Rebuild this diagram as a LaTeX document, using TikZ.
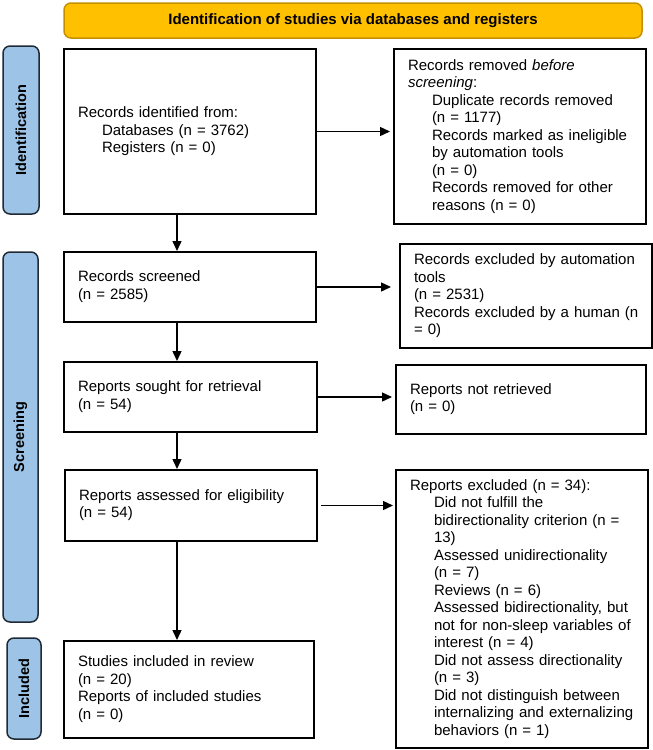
\documentclass[tikz,border=0pt]{standalone}
\usepackage{fontspec}
\setmainfont{Liberation Sans}
\usetikzlibrary{arrows.meta,calc}
\definecolor{hdrfill}{HTML}{FFC000}
\definecolor{hdrdraw}{HTML}{C49000}
\definecolor{lblfill}{HTML}{9DC3E6}
\definecolor{lbldraw}{HTML}{1F2A36}
\newcommand\ind{\hspace*{24pt}}
\begin{document}
\begin{tikzpicture}[x=1pt,y=-1pt,
  pbox/.style={draw=black, line width=2pt, inner xsep=14pt, inner ysep=0pt,
    align=left, anchor=north west, font=\fontsize{15}{17.5}\selectfont},
  hdr/.style={draw=hdrdraw, fill=hdrfill, line width=1.5pt, rounded corners=7pt,
    font=\bfseries\fontsize{15}{18}\selectfont, inner sep=0pt},
  phase/.style={draw=lbldraw, fill=lblfill, line width=1.5pt, rounded corners=7pt,
    rotate=90, font=\bfseries\fontsize{14.5}{17}\selectfont, inner sep=0pt},
  arr/.style={line width=1.4pt, -{Triangle[length=10pt,width=9pt]}}]
\useasboundingbox (0,0) rectangle (653,750);

\node[hdr, minimum width=578pt, minimum height=35pt] (hd) at (353,20.5)
  {Identification of studies via databases and registers};

\node[phase, minimum width=168pt, minimum height=36pt] (pid) at (21,130) {Identification};
\node[phase, minimum width=370pt, minimum height=35pt] (psc) at (20.5,437) {Screening};
\node[phase, minimum width=101pt, minimum height=34pt] (pin) at (24,688.5) {Included};

\node[pbox, text width=224pt, minimum height=165pt] (ident) at (63,48)
  {\begin{tabular}{@{}l@{}}Records identified from:\\ \ind Databases (n = 3762)\\ \ind Registers (n = 0)\end{tabular}};

\node[pbox, text width=224pt, minimum height=175pt] (removed) at (393,48)
  {\begin{tabular}{@{}l@{}}Records removed \textit{before}\\ \textit{screening}:\\
   \ind Duplicate records removed\\ \ind (n = 1177)\\
   \ind Records marked as ineligible\\ \ind by automation tools\\ \ind (n = 0)\\
   \ind Records removed for other\\ \ind reasons (n = 0)\end{tabular}};

\node[pbox, text width=224pt, minimum height=70pt] (screened) at (63,251)
  {\begin{tabular}{@{}l@{}}Records screened\\ (n = 2585)\end{tabular}};

\node[pbox, text width=224pt, minimum height=104pt] (auto) at (399,243)
  {\begin{tabular}{@{}l@{}}Records excluded by automation\\ tools\\ (n = 2531)\\
   Records excluded by a human (n\\ = 0)\end{tabular}};

\node[pbox, text width=225pt, minimum height=70pt] (sought) at (63,361)
  {\begin{tabular}{@{}l@{}}Reports sought for retrieval\\ (n = 54)\end{tabular}};

\node[pbox, text width=222pt, minimum height=69pt] (notret) at (395,364)
  {\begin{tabular}{@{}l@{}}Reports not retrieved\\ (n = 0)\end{tabular}};

\node[pbox, text width=224pt, minimum height=71pt] (assessed) at (64,469)
  {\begin{tabular}{@{}l@{}}Reports assessed for eligibility\\ (n = 54)\end{tabular}};

\node[pbox, text width=224pt, minimum height=278pt] (excl) at (395,469)
  {\begin{tabular}{@{}l@{}}Reports excluded (n = 34):\\
   \ind Did not fulfill the\\ \ind bidirectionality criterion (n =\\ \ind 13)\\
   \ind Assessed unidirectionality\\ \ind (n = 7)\\
   \ind Reviews (n = 6)\\
   \ind Assessed bidirectionality, but\\ \ind not for non-sleep variables of\\ \ind interest (n = 4)\\
   \ind Did not assess directionality\\ \ind (n = 3)\\
   \ind Did not distinguish between\\ \ind internalizing and externalizing\\ \ind behaviors (n = 1)\end{tabular}};

\node[pbox, text width=222pt, minimum height=97pt] (incl) at (63,640)
  {\begin{tabular}{@{}l@{}}Studies included in review\\ (n = 20)\\
   Reports of included studies\\ (n = 0)\end{tabular}};

\coordinate (col) at (177,0);
\draw[arr] (ident.south -| col) -- (screened.north -| col);
\draw[arr] (screened.south -| col) -- (sought.north -| col);
\draw[arr] (sought.south -| col) -- (assessed.north -| col);
\draw[arr] (assessed.south -| col) -- (incl.north -| col);

\draw[arr, shorten >=3pt] (ident.east) -- (ident.east -| removed.west);
\draw[arr, shorten >=8pt] (screened.east) -- (screened.east -| auto.west);
\draw[arr, shorten >=3pt] (sought.east) -- (sought.east -| notret.west);
\draw[arr, shorten >=2pt] ($(assessed.east)+(3,0)$) -- (assessed.east -| excl.west);
\end{tikzpicture}
\end{document}
